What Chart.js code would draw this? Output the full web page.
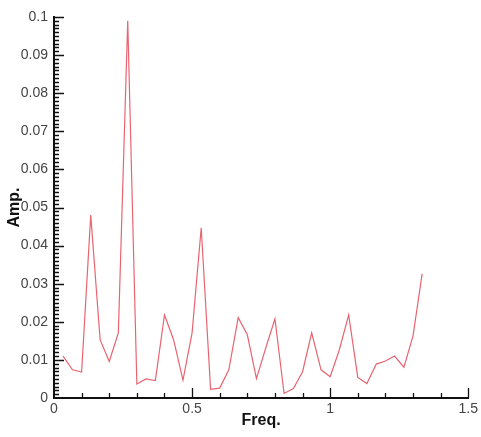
<!DOCTYPE html>
<html>
<head>
  <meta charset="UTF-8">
  <script src="https://cdn.jsdelivr.net/npm/chart.js@4/dist/chart.umd.min.js"></script>
  <title>Amp. vs Freq.</title>
  <style>
    body { margin: 0; background: #fff; }
    .chart-container { width: 481px; height: 437px; position: relative; }
  </style>
</head>
<body>
  <div class="chart-container">
    <canvas id="spectrumChart"></canvas>
  </div>

  <script>
    // spectrum samples
    const freqs = [
      0.033, 0.067, 0.100, 0.133, 0.167, 0.200, 0.233, 0.267, 0.300, 0.333,
      0.367, 0.400, 0.433, 0.467, 0.500, 0.533, 0.567, 0.600, 0.633, 0.667,
      0.700, 0.733, 0.767, 0.800, 0.833, 0.867, 0.900, 0.933, 0.967, 1.000,
      1.033, 1.067, 1.100, 1.133, 1.167, 1.200, 1.233, 1.267, 1.300, 1.333
    ];
    const amps = [
      0.0110, 0.0074, 0.0068, 0.0480, 0.0153, 0.0096, 0.0171, 0.0990, 0.0037, 0.0050,
      0.0046, 0.0218, 0.0153, 0.0047, 0.0171, 0.0447, 0.0023, 0.0026, 0.0074, 0.0211,
      0.0166, 0.0051, 0.0132, 0.0208, 0.0012, 0.0025, 0.0069, 0.0171, 0.0074, 0.0056,
      0.0126, 0.0218, 0.0054, 0.0038, 0.0089, 0.0097, 0.0110, 0.0081, 0.0163, 0.0326
    ];
    const xTicks = [0, 0.5, 1, 1.5];
    const yTicks = [0, 0.01, 0.02, 0.03, 0.04, 0.05, 0.06, 0.07, 0.08, 0.09, 0.1];

    const points = freqs.map((f, i) => ({ x: f, y: amps[i] }));

    // inward tick marks, major and minor, like a Tecplot frame
    const innerTicks = {
      id: 'innerTicks',
      afterDraw(chart) {
        const ctx = chart.ctx;
        const xs = chart.scales.x;
        const ys = chart.scales.y;
        const x0 = xs.getPixelForValue(0);
        const y0 = ys.getPixelForValue(0);
        ctx.save();
        ctx.strokeStyle = '#111';
        ctx.lineWidth = 1.3;
        ctx.beginPath();
        for (let i = 1; i <= 15; i++) {
          const px = Math.round(xs.getPixelForValue(i / 10)) + 0.5;
          const len = i % 5 === 0 ? 10 : 5;
          ctx.moveTo(px, y0);
          ctx.lineTo(px, y0 - len);
        }
        for (let j = 1; j <= 100; j++) {
          const py = Math.round(ys.getPixelForValue(j / 1000)) + 0.5;
          const len = j % 10 === 0 ? 10 : 5;
          ctx.moveTo(x0, py);
          ctx.lineTo(x0 + len, py);
        }
        ctx.stroke();
        ctx.restore();
      }
    };

    const fmt = v => String(Number(v.toFixed(3)));

    new Chart(document.getElementById('spectrumChart'), {
      type: 'line',
      data: {
        datasets: [{
          data: points,
          borderColor: 'rgb(232, 100, 112)',
          borderWidth: 1.2,
          pointRadius: 0,
          tension: 0,
          fill: false
        }]
      },
      options: {
        responsive: true,
        maintainAspectRatio: false,
        animation: false,
        layout: { padding: { top: 17, right: 12, left: 0, bottom: 0 } },
        plugins: {
          legend: { display: false },
          tooltip: { enabled: false }
        },
        scales: {
          x: {
            type: 'linear',
            min: 0,
            max: 1.5,
            afterFit: scale => { scale.height = 39; },
            afterBuildTicks: scale => { scale.ticks = xTicks.map(v => ({ value: v })); },
            grid: { display: false, drawTicks: false },
            border: { display: true, color: '#111', width: 2 },
            ticks: {
              padding: 3,
              color: '#444',
              font: { family: 'Liberation Sans, Arial, sans-serif', size: 14 },
              maxRotation: 0,
              callback: v => fmt(v)
            },
            title: {
              display: true,
              text: 'Freq.',
              color: '#111',
              padding: { top: 0, bottom: 7 },
              font: { family: 'Liberation Sans, Arial, sans-serif', size: 16, weight: 'bold' }
            }
          },
          y: {
            type: 'linear',
            min: 0,
            max: 0.1,
            afterFit: scale => { scale.width = 54; },
            afterBuildTicks: scale => { scale.ticks = yTicks.map(v => ({ value: v })); },
            grid: { display: false, drawTicks: false },
            border: { display: true, color: '#111', width: 2 },
            ticks: {
              padding: 6,
              color: '#444',
              font: { family: 'Liberation Sans, Arial, sans-serif', size: 14 },
              callback: v => fmt(v)
            },
            title: {
              display: true,
              text: 'Amp.',
              color: '#111',
              padding: { top: 5, bottom: 0 },
              font: { family: 'Liberation Sans, Arial, sans-serif', size: 16, weight: 'bold' }
            }
          }
        }
      },
      plugins: [innerTicks]
    });
  </script>
</body>
</html>
